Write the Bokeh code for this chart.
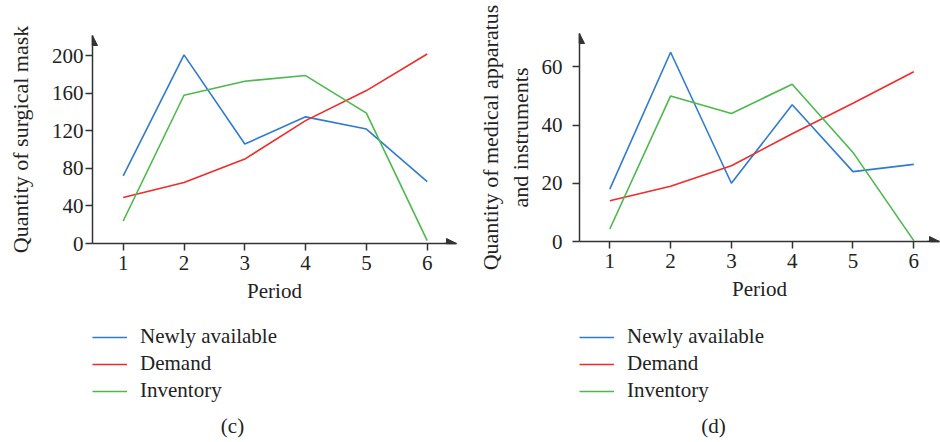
from bokeh.plotting import figure
from bokeh.layouts import row, column
from bokeh.models import Legend, LegendItem, Label, Arrow, NormalHead, FixedTicker
from bokeh.embed import file_html
from bokeh.resources import INLINE

periods = [1, 2, 3, 4, 5, 6]

mask_newly = [72, 201, 106, 135, 122, 66]
mask_demand = [49, 65, 90, 131, 163, 202]
mask_inventory = [24, 158, 173, 179, 139, 3]
mask_ticks = [0, 40, 80, 120, 160, 200]

med_newly = [18, 65, 20, 47, 24, 26.5]
med_demand = [14, 19, 26, 37, 47.5, 58.3]
med_inventory = [4.3, 50, 44, 54, 30.6, 0.3]
med_ticks = [0, 20, 40, 60]

series_names = ["Newly available", "Demand", "Inventory"]
colors = ["#2f7bcf", "#f22a2a", "#4cb94c"]

FONT = "Liberation Serif"
AX = "#333333"
TXT = "#222222"
CHART_H = 310
LEG_H = 132
W = 470


def chart(newly, demand, inv, ticks, ylabel, x_range, y_range, borders, std):
    left, right, top, bottom = borders
    p = figure(width=W, height=CHART_H, output_backend="svg", toolbar_location=None,
               x_range=x_range, y_range=y_range,
               min_border_left=left, min_border_right=right,
               min_border_top=top, min_border_bottom=bottom)
    p.outline_line_color = None
    p.grid.visible = False
    for ax in (p.xaxis, p.yaxis):
        ax.axis_line_color = AX
        ax.axis_line_width = 1.5
        ax.major_tick_line_color = AX
        ax.major_tick_line_width = 1.5
        ax.major_tick_out = 7
        ax.major_tick_in = 0
        ax.minor_tick_line_color = None
        ax.major_label_text_font = FONT
        ax.major_label_text_font_size = "21px"
        ax.major_label_text_color = TXT
        ax.axis_label_text_font = FONT
        ax.axis_label_text_font_size = "21px"
        ax.axis_label_text_font_style = "normal"
        ax.axis_label_text_color = TXT
    p.yaxis.axis_label_text_font_size = "22px"
    p.xaxis.ticker = FixedTicker(ticks=periods)
    p.yaxis.ticker = FixedTicker(ticks=ticks)
    p.xaxis.axis_label = "Period"
    p.yaxis.axis_label = ylabel
    p.xaxis.major_label_standoff = 5
    p.xaxis.axis_label_standoff = 6
    p.yaxis.major_label_standoff = std[0]
    p.yaxis.axis_label_standoff = std[1]

    for ys, c in zip((newly, demand, inv), colors):
        p.line(periods, ys, line_color=c, line_width=1.6)

    head = dict(size=10, fill_color=AX, line_color=AX)
    p.add_layout(Arrow(end=NormalHead(**head), line_color=AX, line_width=1.5,
                       x_start=x_range[1] - 0.2, y_start=0, x_end=x_range[1], y_end=0))
    p.add_layout(Arrow(end=NormalHead(**head), line_color=AX, line_width=1.5,
                       x_start=x_range[0], y_start=y_range[1] * 0.95,
                       x_end=x_range[0], y_end=y_range[1]))
    return p


def legend_panel(newly, demand, inv, caption, cap_x):
    q = figure(width=W, height=LEG_H, output_backend="svg", toolbar_location=None,
               x_range=(0, W), y_range=(0, LEG_H), x_axis_location=None, y_axis_location=None,
               min_border=0)
    q.outline_line_color = None
    q.grid.visible = False
    rs = []
    for ys, c in zip((newly, demand, inv), colors):
        rs.append(q.line(periods, ys, line_color=c, line_width=1.6, visible=False))
    legend = Legend(items=[LegendItem(label=n, renderers=[r]) for n, r in zip(series_names, rs)],
                    location=(0, 39), padding=0, margin=0, spacing=2,
                    glyph_width=35, glyph_height=20, label_height=20, label_standoff=13,
                    border_line_color=None, background_fill_alpha=0,
                    inactive_fill_alpha=0,
                    label_text_font=FONT, label_text_font_size="21px",
                    label_text_color=TXT)
    q.add_layout(legend, "center")
    q.add_layout(Label(x=cap_x, y=17, x_units="screen", y_units="screen", text=caption,
                       text_font=FONT, text_font_size="21px", text_color=TXT,
                       text_align="center", text_baseline="middle"))
    return q


p1 = chart(mask_newly, mask_demand, mask_inventory, mask_ticks,
           "Quantity of surgical mask",
           (0.495, 6.482), (0, 221.7), (92, 14, 35, 67), (2, 16))
l1 = legend_panel(mask_newly, mask_demand, mask_inventory, "(c)", 140)

p2 = chart(med_newly, med_demand, med_inventory, med_ticks,
           "Quantity of medical apparatus\nand instruments",
           (0.5016, 6.423), (0, 71.45), (109, 1, 33, 69), (10, 6))
l2 = legend_panel(med_newly, med_demand, med_inventory, "(d)", 134)

layout = row(column(p1, l1, spacing=0), column(p2, l2, spacing=0), spacing=0)
open("out.html", "w").write(file_html(layout, INLINE))
